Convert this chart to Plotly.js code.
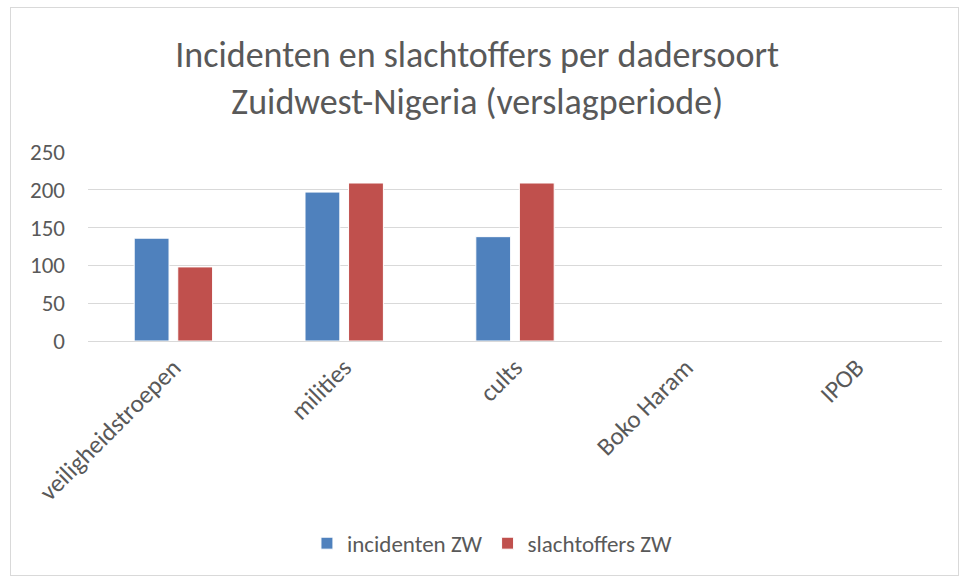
<!DOCTYPE html>
<html>
<head>
<meta charset="utf-8">
<script src="https://cdn.plot.ly/plotly-3.0.1.min.js"></script>
<style>
  html, body { margin: 0; padding: 0; background: #fff; }
  #wrap { position: relative; width: 968px; height: 578px; }
  #chart { width: 968px; height: 578px; }
  #frame { position: absolute; left: 10px; top: 7px; width: 947px; height: 567px; border: 1px solid #d9d9d9; pointer-events: none; }
</style>
</head>
<body>
<div id="wrap">
  <div id="chart"></div>
  <div id="frame"></div>
</div>
<script>
const categories = ["veiligheidstroepen", "milities", "cults", "Boko Haram", "IPOB"];
const incidenten = [136, 197, 138, 0, 0];
const slachtoffers = [98, 209, 209, 0, 0];
const seriesNames = ["incidenten ZW", "slachtoffers ZW"];
const titleText = "Incidenten en slachtoffers per dadersoort<br>Zuidwest-Nigeria (verslagperiode)";

const font = "Calibri, Carlito, 'Liberation Sans', 'DejaVu Sans', sans-serif";
const grey = "#595959";

const traces = [
  { type: "bar", name: seriesNames[0], x: categories, y: incidenten,
    marker: { color: "#4F81BD", line: { color: "#ffffff", width: 1 } } },
  { type: "bar", name: seriesNames[1], x: categories, y: slachtoffers,
    marker: { color: "#C0504D", line: { color: "#ffffff", width: 1 } } }
];

const layout = {
  width: 968, height: 578,
  margin: { l: 88, r: 26, t: 152, b: 237 },
  paper_bgcolor: "#ffffff", plot_bgcolor: "#ffffff",
  font: { family: font, color: grey, size: 23 },
  title: { text: titleText, x: 0.493, xanchor: "center", y: 0.884, yanchor: "middle",
           font: { family: font, size: 36, color: grey } },
  barmode: "group", bargap: 0.49, bargroupgap: 0.2,
  xaxis: { type: "category", tickangle: -45, showgrid: false, zeroline: false,
           showline: false, ticks: "", ticklabelstandoff: 6, tickfont: { size: 25, color: grey } },
  yaxis: { range: [0, 250], dtick: 50, showgrid: true, gridcolor: "#d9d9d9", gridwidth: 1,
           zeroline: true, zerolinecolor: "#d9d9d9", zerolinewidth: 1, showline: false,
           ticks: "", ticklabelstandoff: 22, tickfont: { size: 23, color: grey } },
  showlegend: true,
  legend: { orientation: "h", x: 0.473, xanchor: "center", y: -1.07, yanchor: "middle",
            font: { size: 23, color: grey }, itemwidth: 30 }
};

Plotly.newPlot("chart", traces, layout, { displayModeBar: false, staticPlot: true });
</script>
</body>
</html>
